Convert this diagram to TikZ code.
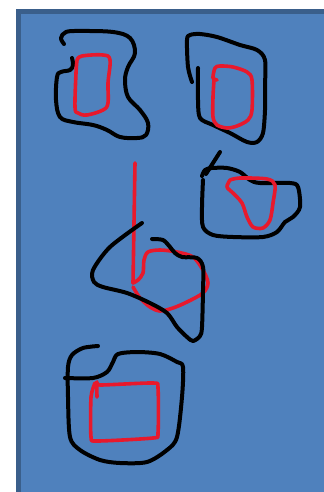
\documentclass[tikz,border=0pt]{standalone}
\definecolor{bgblue}{HTML}{4F81BD}
\definecolor{bdblue}{HTML}{3A5F8B}
\definecolor{inkred}{HTML}{E8192C}
\tikzset{
  blk/.style={draw=black,line width=2pt,line cap=round,line join=round},
  rd/.style={draw=inkred,line width=1.8pt,line cap=round,line join=round}
}
\begin{document}
\begin{tikzpicture}[x=0.5pt,y=-0.5pt]
\useasboundingbox (0,0) rectangle (324,492);
\fill[white] (0,0) rectangle (324,492);
\begin{scope}
\clip (0,0) rectangle (324,492);
\draw[fill=bgblue,draw=bdblue,line width=2.3pt] (18.5,11.5) rectangle (340,510);
\end{scope}
% shape 1
\draw[blk] plot[smooth,tension=0.6] coordinates{(64,44) (61,38) (66,32) (80,31) (113,32) (130,38) (135,53) (128,67) (125,80) (128,97) (140,110) (148,123) (146,135) (137,138) (120,137) (107,130) (93,125) (73,122) (60,117) (56,100) (57,77) (61,72) (70,70) (73,65) (72,58)};
\draw[rd] plot[smooth,tension=0.6] coordinates{(77,60) (82,56) (103,55) (110,60) (108,83) (108,103) (103,110) (87,115) (78,113) (75,107) (76,73) (77,60)};
% shape 2
\draw[blk] plot[smooth,tension=0.5] coordinates{(192,82) (188,67) (187,40) (190,35) (200,34) (217,37) (240,45) (257,50) (265,60) (265,87) (265,110) (263,133) (257,142) (247,142) (230,133) (213,125) (200,118) (198,100) (198,68)};
\draw[rd] plot[smooth,tension=0.5] coordinates{(217,80) (213,78) (215,68) (220,66) (233,67) (247,72) (252,80) (252,110) (248,120) (237,126) (227,128) (217,125) (213,117) (213,97) (214,80)};
% shape 4 (middle right)
\draw[blk] (220,152) -- (206,174);
\draw[blk] plot[smooth,tension=0.5] coordinates{(202,176) (205,170) (212,168) (227,168) (240,172) (250,180) (260,183) (290,183) (298,187) (300,207) (293,217) (285,222) (277,232) (263,237) (233,237) (213,235) (203,227) (202,207) (203,180)};
\draw[rd] plot[smooth,tension=0.5] coordinates{(230,180) (240,178) (267,179) (275,185) (273,203) (270,220) (263,228) (253,227) (247,217) (242,203) (233,193) (227,187) (230,180)};
% shape 3 (middle)
\draw[rd] (135,163) -- (133,283);
\draw[rd] plot[smooth,tension=0.5] coordinates{(133,283) (138,280) (143,273) (144,260) (148,252) (160,250) (177,252) (193,257) (203,270) (208,283) (203,293) (187,302) (173,308) (160,311) (150,307) (140,298) (133,287)};
\draw[blk] plot[smooth,tension=0.5] coordinates{(142,223) (110,247) (93,270) (94,282) (103,287) (127,293) (150,303) (167,313) (177,327) (187,337) (193,341) (200,336) (202,327) (203,290) (203,267) (197,258) (182,257) (175,253) (170,247) (163,240) (152,239)};
% shape 5 (bottom)
\draw[blk] plot[smooth,tension=0.5] coordinates{(98,346) (83,348) (72,355) (68,367) (68,397) (70,437) (80,450) (100,460) (120,463) (147,462) (167,450) (177,437) (182,397) (183,367) (177,362) (160,354) (137,352) (118,354) (113,362) (107,372) (93,378) (65,378)};
\draw[rd] plot[smooth,tension=0.4] coordinates{(97,397) (97,382) (100,385) (153,383) (158,388) (158,433) (153,438) (97,441) (91,437) (91,397) (95,383)};
\end{tikzpicture}
\end{document}
